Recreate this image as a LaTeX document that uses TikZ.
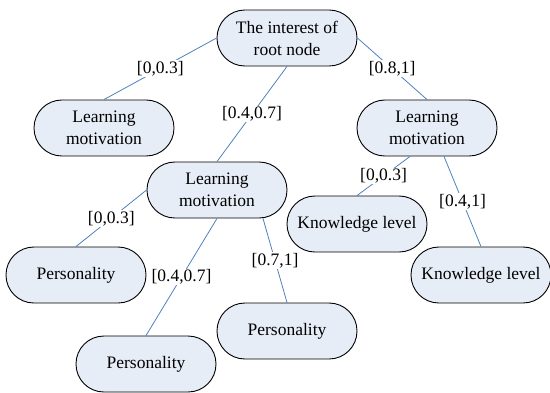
\documentclass[tikz,border=0pt]{standalone}
\usepackage{fontspec}
\setmainfont{Liberation Serif}
\newfontfamily\treefont{Liberation Serif}
\definecolor{boxfill}{RGB}{230,237,247}
\definecolor{edgeblue}{RGB}{79,129,189}
\begin{document}
\begin{tikzpicture}[x=1bp,y=-1bp,
  every node/.style={font=\treefont\fontsize{17.5bp}{22bp}\selectfont},
  box/.style={draw,line width=0.9bp,fill=boxfill,rounded corners=27.9bp,minimum width=140bp,minimum height=56bp,align=center,inner sep=0pt},
  rng/.style={fill=white,inner sep=1bp},
  link/.style={draw=edgeblue,line width=0.8bp}]
  \useasboundingbox (0,0) rectangle (550,392);
  % tree nodes
  \node[box] (root) at (287,38) {The interest of\\root node};
  \node[box] (lm1) at (104,128) {Learning\\motivation};
  \node[box] (lm2) at (217,190) {Learning\\motivation};
  \node[box] (lm3) at (427,128) {Learning\\motivation};
  \node[box] (kl1) at (357,224) {Knowledge level};
  \node[box] (kl2) at (481,275) {Knowledge level};
  \node[box] (p1) at (76,275) {Personality};
  \node[box] (p2) at (146,364) {Personality};
  \node[box] (p3) at (287,331) {Personality};
  % branches with their intervals
  \path[link] (root.west) -- node[rng] {[0,0.3]} (lm1.north);
  \path[link] (root.south) -- node[rng] {[0.4,0.7]} (lm2.north);
  \path[link] (root.east) -- node[rng] {[0.8,1]} (lm3.north);
  \path[link] ([xshift=-17bp]lm3.south) -- node[rng] {[0,0.3]} (kl1.north);
  \path[link] ([xshift=17bp]lm3.south) -- node[rng] {[0.4,1]} (kl2.north);
  \path[link] (lm2.west) -- node[rng] {[0,0.3]} (p1.north);
  \path[link] (lm2.south) -- node[rng] {[0.4,0.7]} (p2.north);
  \path[link] ([xshift=46bp]lm2.south) -- node[rng] {[0.7,1]} (p3.north);
\end{tikzpicture}
\end{document}
